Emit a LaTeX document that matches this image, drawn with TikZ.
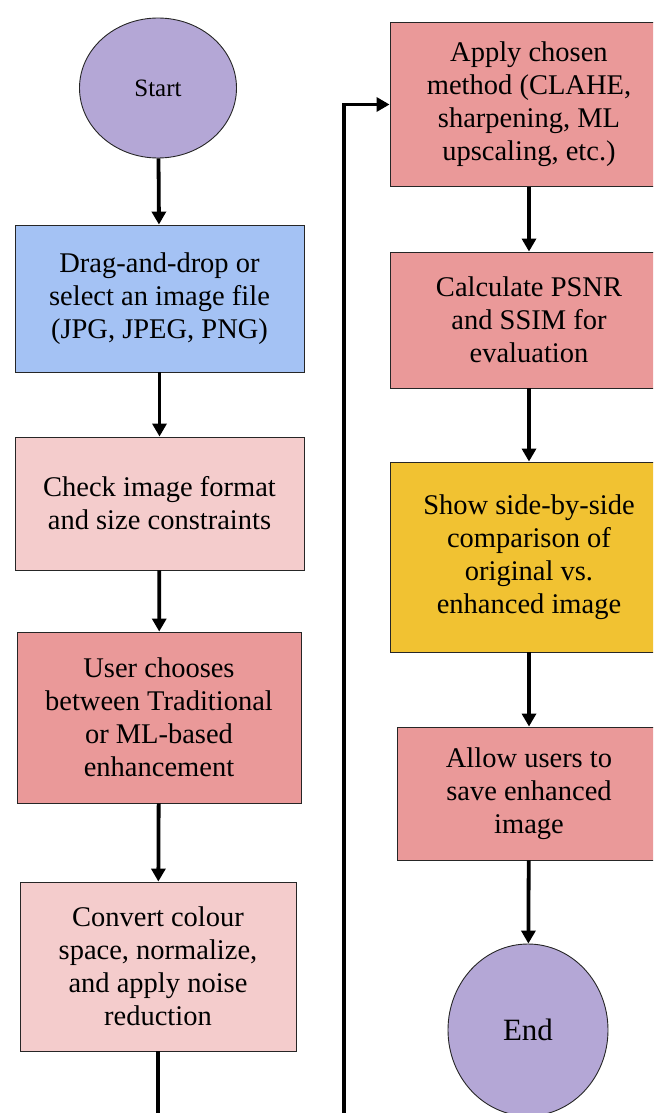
\documentclass[tikz,border=0pt]{standalone}
\usepackage{fontspec}
\IfFontExistsTF{LiberationSerif-Regular.ttf}{%
  \setmainfont{LiberationSerif}[Extension=.ttf,UprightFont=*-Regular,BoldFont=*-Bold,ItalicFont=*-Italic,BoldItalicFont=*-BoldItalic]}{%
  \setmainfont{Liberation Serif}}
\usetikzlibrary{arrows.meta,shapes.geometric}
\definecolor{lav}{HTML}{B4A7D6}
\definecolor{bluebox}{HTML}{A4C2F4}
\definecolor{lightpink}{HTML}{F4CCCC}
\definecolor{darkpink}{HTML}{EA9999}
\definecolor{yellowbox}{HTML}{F1C232}
\tikzset{
  procbox/.style={draw=black!85, line width=0.9pt, rectangle, align=center, inner sep=0pt,
    font=\fontsize{28.5}{33}\selectfont},
  term/.style={draw=black!85, line width=0.9pt, ellipse, inner sep=0pt, fill=lav},
  flow/.style={line width=3.8pt, -{Triangle[length=13pt,width=14pt]}},
}
\begin{document}
\begin{tikzpicture}[x=1pt,y=-1pt]
\useasboundingbox (0,0) rectangle (653,1113);
\clip (0,0) rectangle (653,1113);
\node[term, minimum width=157pt, minimum height=140pt, font=\fontsize{25}{30}\selectfont] (start) at (158,88) {Start};
\node[procbox, fill=bluebox, minimum width=289pt, minimum height=147pt] (drag) at (159.5,298.5) {Drag-and-drop or\\select an image file\\(JPG, JPEG, PNG)};
\node[procbox, fill=lightpink, minimum width=289pt, minimum height=133pt] (check) at (159.5,503.5) {Check image format\\and size constraints};
\node[procbox, fill=darkpink, minimum width=284pt, minimum height=171pt] (choose) at (159,717.5) {User chooses\\between Traditional\\or ML-based\\enhancement};
\node[procbox, fill=lightpink, minimum width=276pt, minimum height=169pt] (convert) at (158,966.5) {Convert colour\\space, normalize,\\and apply noise\\reduction};
\node[procbox, fill=darkpink, minimum width=278pt, minimum height=164pt] (apply) at (529,104.5) {Apply chosen\\method (CLAHE,\\sharpening, ML\\upscaling, etc.)};
\node[procbox, fill=darkpink, minimum width=278pt, minimum height=136pt] (calc) at (529,320) {Calculate PSNR\\and SSIM for\\evaluation};
\node[procbox, fill=yellowbox, minimum width=278pt, minimum height=190pt] (show) at (529,557) {Show side-by-side\\comparison of\\original vs.\\enhanced image};
\node[procbox, fill=darkpink, minimum width=264pt, minimum height=133pt] (allow) at (529,793.5) {Allow users to\\save enhanced\\image};
\node[term, minimum width=160pt, minimum height=172pt, font=\fontsize{31}{36}\selectfont] (end) at (528,1030) {End};
\coordinate (b1) at (158,1130);
\coordinate (b2) at (344,1130);
\draw[flow] (start) -- (drag);
\draw[flow] (drag) -- (check);
\draw[flow] (check) -- (choose);
\draw[flow] (choose) -- (convert);
\draw[flow] (convert.south) -- (b1) -- (b2) |- (apply.west);
\draw[flow] (apply) -- (calc);
\draw[flow] (calc) -- (show);
\draw[flow] (show) -- (allow);
\draw[flow] (allow) -- (end);
\end{tikzpicture}
\end{document}
